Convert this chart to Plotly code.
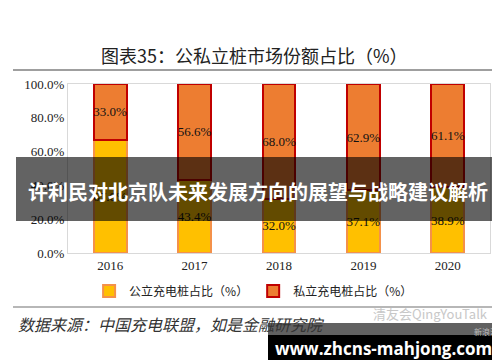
import plotly.graph_objects as go

years = ["2016", "2017", "2018", "2019", "2020"]
public_share = [67.0, 43.4, 32.0, 37.1, 38.9]
private_share = [33.0, 56.6, 68.0, 62.9, 61.1]
y_ticks = [0, 20, 40, 60, 80, 100]
y_tick_labels = ["0.0%", "20.0%", "40.0%", "60.0%", "80.0%", "100.0%"]

title_text = "图表35：公私立桩市场份额占比（%）"
public_name = "公立充电桩占比（%）"
private_name = "私立充电桩占比（%）"
source_text = "数据来源：中国充电联盟，如是金融研究院"
banner_text = "许利民对北京队未来发展方向的展望与战略建议解析"
site_text = "www.zhcns-mahjong.com"
watermark_text = "清友会QingYouTalk"
small_mark_text = "新浪汇"

serif = "Liberation Serif, Times New Roman, serif"
cjk = "Noto Sans CJK SC, sans-serif"

L, R, T, B = 60, 18, 76, 117
W, H = 500, 362


def px_x(x):
    return (x - L) / (W - L - R)


def px_y(y):
    return ((H - B) - y) / (H - B - T)


fig = go.Figure()
fig.add_trace(go.Bar(
    x=years, y=public_share, name=public_name,
    marker=dict(color="#FFC000", line=dict(color="#F4914A", width=2)),
    texttemplate="%{y:.1f}%", textposition="inside", insidetextanchor="middle",
    constraintext="none", textangle=0,
    textfont=dict(family=serif, size=13, color="#111111"),
    width=0.39,
))
fig.add_trace(go.Bar(
    x=years, y=private_share, name=private_name,
    marker=dict(color="#ED7D31", line=dict(color="#C00000", width=2)),
    texttemplate="%{y:.1f}%", textposition="inside", insidetextanchor="middle",
    constraintext="none", textangle=0,
    textfont=dict(family=serif, size=13, color="#111111"),
    width=0.39,
))

fig.update_layout(
    barmode="stack",
    width=W, height=H,
    margin=dict(l=L, r=R, t=T, b=B),
    paper_bgcolor="white", plot_bgcolor="white",
    showlegend=True,
    legend=dict(orientation="h", x=0.05, xanchor="left", y=px_y(283), yanchor="middle",
                font=dict(family=cjk, size=12, color="#222222"),
                traceorder="normal", itemwidth=30, bgcolor="rgba(0,0,0,0)"),
    xaxis=dict(showgrid=False, showline=True, linecolor="#D9D9D9", linewidth=1, mirror=True,
               ticks="", tickfont=dict(family=serif, size=13, color="#222222")),
    yaxis=dict(range=[0, 100], tickvals=y_ticks, ticktext=y_tick_labels,
               showgrid=False, showline=True, linecolor="#D9D9D9", linewidth=1, mirror=True,
               ticks="", zeroline=False,
               tickfont=dict(family=serif, size=13, color="#222222")),
    font=dict(family=cjk),
)

anns = [
    dict(text=title_text, xref="paper", yref="paper", x=px_x(246), y=px_y(47),
         xanchor="center", yanchor="middle", showarrow=False,
         font=dict(family=cjk, size=18, color="#222222")),
    dict(text=source_text, xref="paper", yref="paper", x=px_x(8), y=px_y(316),
         xanchor="left", yanchor="middle", showarrow=False,
         font=dict(family=cjk, size=16, color="#333333", style="italic")),
    dict(text=watermark_text, xref="paper", yref="paper", x=px_x(482), y=px_y(305),
         xanchor="right", yanchor="middle", showarrow=False,
         font=dict(family=cjk, size=13, color="#C8C8C8")),
    dict(text=small_mark_text, xref="paper", yref="paper", x=px_x(492), y=px_y(323),
         xanchor="right", yanchor="middle", showarrow=False,
         font=dict(family=cjk, size=8, color="#BBBBBB")),
    dict(text=banner_text, xref="paper", yref="paper", x=px_x(250), y=px_y(183),
         xanchor="center", yanchor="middle", showarrow=False,
         font=dict(family=cjk, size=20, color="white", weight="bold")),
    dict(text=site_text, xref="paper", yref="paper", x=px_x(375), y=px_y(340),
         xanchor="center", yanchor="middle", showarrow=False,
         font=dict(family="Open Sans, DejaVu Sans, sans-serif", size=17, color="white", weight="bold")),
]
fig.layout.annotations = anns

shapes = [
    dict(type="line", xref="paper", yref="paper", x0=px_x(5), x1=px_x(493), y0=px_y(62), y1=px_y(62),
         line=dict(color="#7F7F7F", width=1.5)),
    dict(type="line", xref="paper", yref="paper", x0=px_x(5), x1=px_x(493), y0=px_y(299), y1=px_y(299),
         line=dict(color="#9F9F9F", width=1.5)),
    dict(type="rect", xref="paper", yref="paper", x0=px_x(8), x1=px_x(492), y0=px_y(213), y1=px_y(149),
         fillcolor="rgba(0,0,0,0.61)", line=dict(width=0), layer="above"),
    dict(type="rect", xref="paper", yref="paper", x0=px_x(260), x1=px_x(491), y0=px_y(327), y1=px_y(315),
         fillcolor="rgba(0,0,0,0.62)", line=dict(width=0), layer="above"),
    dict(type="rect", xref="paper", yref="paper", x0=px_x(260), x1=px_x(491), y0=px_y(352), y1=px_y(327),
         fillcolor="black", line=dict(width=0), layer="above"),
]
fig.layout.shapes = shapes

fig.write_html("out.html")
